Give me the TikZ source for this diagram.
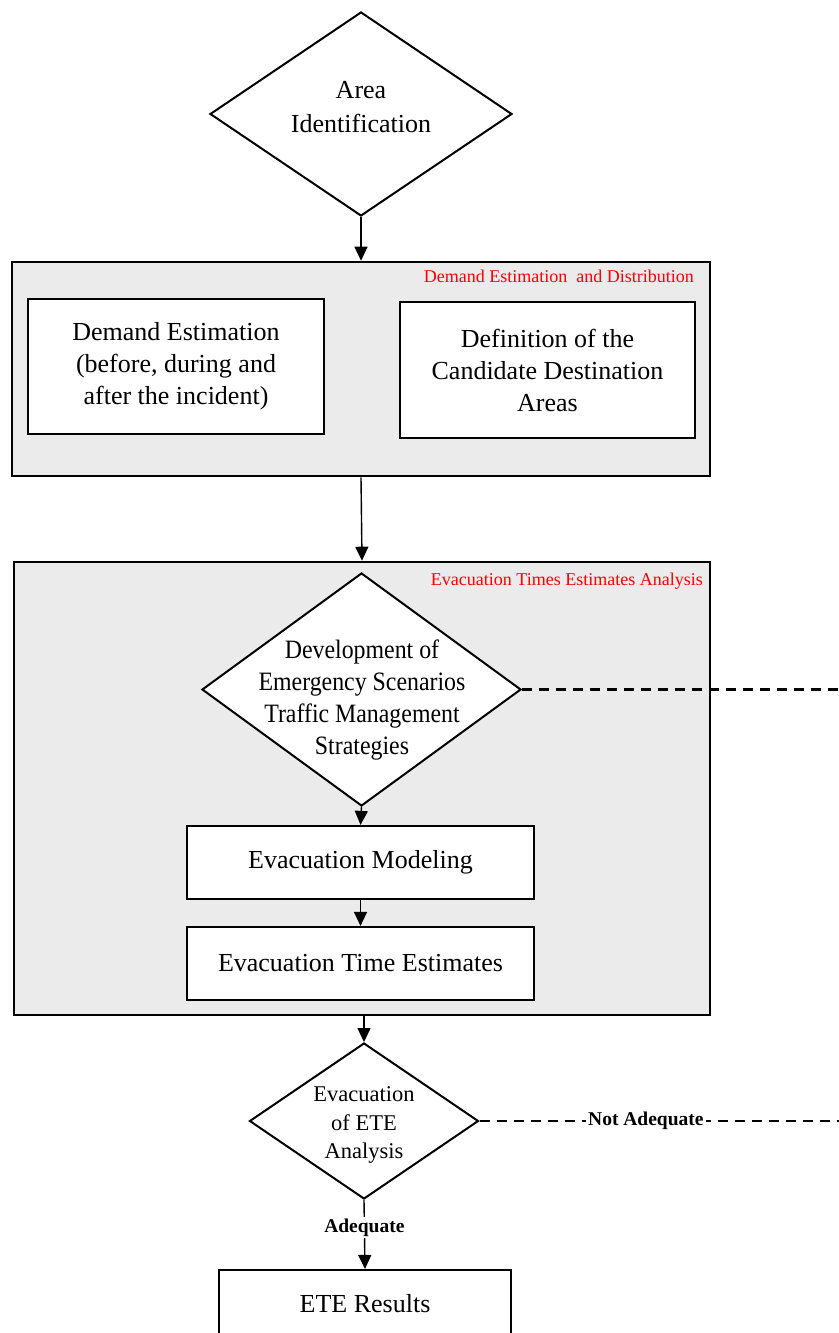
\documentclass[tikz,border=0pt]{standalone}
\usepackage{fontspec}
\setmainfont{Liberation Serif}
\newfontfamily\narrowserif[FakeStretch=0.9]{Liberation Serif}
\usetikzlibrary{shapes.geometric,arrows.meta}
\begin{document}
\begin{tikzpicture}[x=1pt,y=-1pt,
  bigtxt/.style={font=\fontsize{26}{32}\selectfont, align=center, inner sep=0pt},
  midtxt/.style={font=\fontsize{22.5}{28.5}\selectfont, align=center, inner sep=0pt},
  redlbl/.style={font=\fontsize{18}{20}\selectfont, text=red, inner sep=0pt, anchor=east},
  group/.style={draw, line width=2.6pt, fill=black!8, inner sep=0pt},
  whitebox/.style={draw, line width=2.2pt, fill=white, inner sep=0pt, align=center, font=\fontsize{26}{32}\selectfont},
  dec/.style={draw, shape=diamond, line width=2pt, fill=white, inner sep=0pt},
  conn/.style={line width=1.4pt, -{Triangle[length=14pt,width=13pt]}},
  dashline/.style={line width=2.4pt, dash pattern=on 10pt off 7pt},
  edgelbl/.style={font=\bfseries\fontsize{19.5}{22}\selectfont, fill=white, inner sep=2pt}
]
\useasboundingbox (0,0) rectangle (838,1333);
\fill[white] (0,0) rectangle (838,1333);

% top decision
\node[dec, minimum width=302pt, minimum height=204pt] (d1) at (361,114) {};
\node[bigtxt, font=\fontsize{26}{34}\selectfont] (d1t) at (361,107) {Area\\Identification};

% group 1
\node[group, minimum width=698pt, minimum height=214pt] (g1) at (361,369) {};
\node[redlbl] (g1l) at (694,276) {Demand Estimation\ \ and Distribution};
\node[whitebox, minimum width=296pt, minimum height=135pt] (a) at (176,366.5) {Demand Estimation\\(before, during and\\after the incident)};
\node[whitebox, minimum width=295pt, minimum height=136pt] (b) at (547.5,370) {Definition of the\\Candidate Destination\\Areas};

% group 2
\node[group, minimum width=696pt, minimum height=453pt] (g2) at (362,788.5) {};
\node[redlbl] (g2l) at (703,581) {Evacuation Times Estimates Analysis};
\node[dec, minimum width=319pt, minimum height=233pt] (d2) at (361.5,689.5) {};
\node[bigtxt, font=\narrowserif\fontsize{26.5}{32}\selectfont] (d2t) at (362,700) {Development of\\Emergency Scenarios\\Traffic Management\\Strategies};
\node[whitebox, minimum width=347pt, minimum height=73pt] (em) at (360.5,862.5) {Evacuation Modeling};
\node[whitebox, minimum width=347pt, minimum height=73pt] (ete) at (360.5,963.5) {Evacuation Time Estimates};

% bottom decision
\node[dec, minimum width=229pt, minimum height=156pt] (d3) at (364,1121) {};
\node[midtxt] (d3t) at (364,1125) {Evacuation\\of ETE\\Analysis};

% results
\node[whitebox, minimum width=292pt, minimum height=68pt] (res) at (365,1304) {ETE Results};

% free ends
\coordinate (e1) at (850,689.5);
\coordinate (e2) at (850,1121);

% connectors
\draw[conn] (d1.south) -- (g1.north);
\draw[conn] (g1.south) -- (g2.north);
\draw[conn] (d2.south) -- (em.north);
\draw[conn] (em.south) -- (ete.north);
\draw[conn] (d3.north |- g2.south) -- (d3.north);
\draw[conn] (d3.south) -- node[edgelbl, pos=0.4] (adq) {Adequate} (res.north);
\draw[dashline] (d2.east) -- (e1);
\draw[dashline] (d3.east) -- node[edgelbl, pos=0.449] (nadq) {Not Adequate} (e2);
\end{tikzpicture}
\end{document}
